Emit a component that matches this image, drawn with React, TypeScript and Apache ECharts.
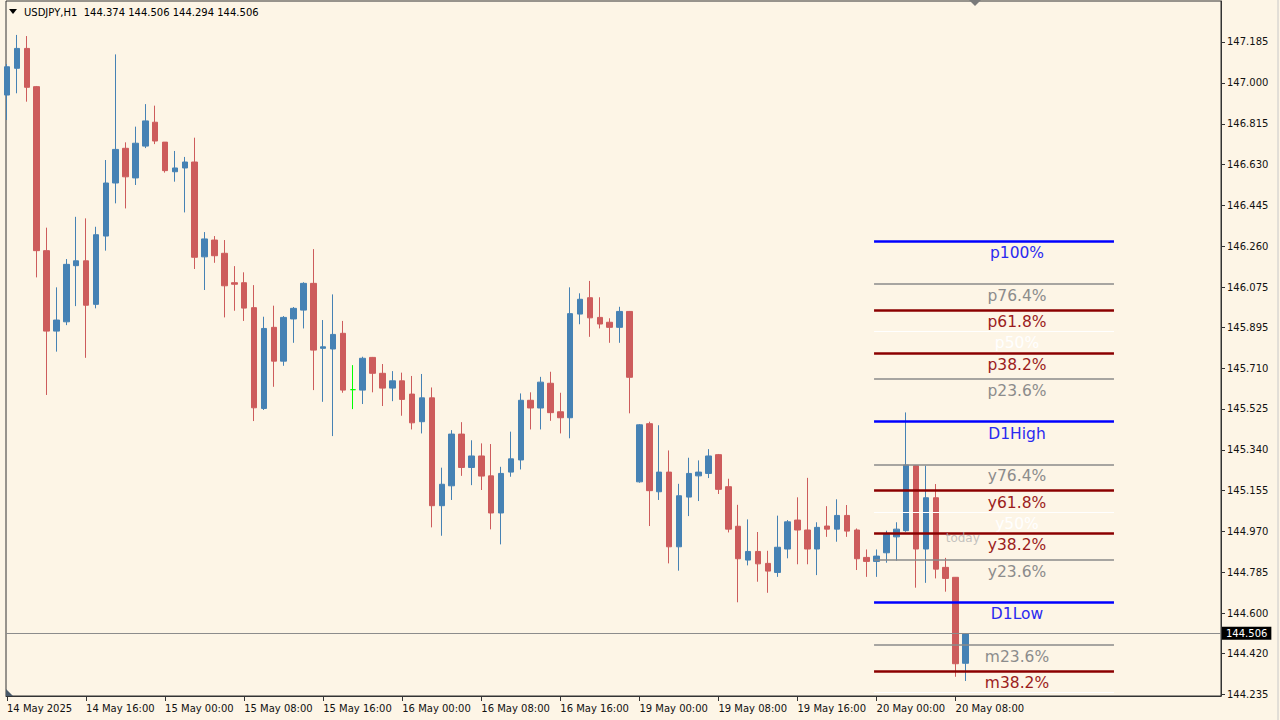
import React, { useEffect, useRef } from "react";
import * as echarts from "echarts";

const symbol = "USDJPY";
const timeframe = "H1";

// 14 May 08:00 ... 20 May 09:00 (H1)
const opens = [
  146.945, 147.066, 147.156, 146.983, 146.241, 145.877, 145.919, 146.173, 146.195, 145.998,
  146.307, 146.547, 146.704, 146.570, 146.714, 146.822, 146.732, 146.598, 146.615, 146.642,
  146.213, 146.289, 146.229, 146.096, 146.096, 145.983, 145.527, 145.894, 145.741, 145.932,
  145.972, 146.093, 145.799, 145.796, 145.867, 145.612, 145.610, 145.758, 145.686, 145.619,
  145.652, 145.592, 145.467, 145.575, 145.087, 145.177, 145.411, 145.260, 145.312, 145.222,
  145.054, 145.239, 145.294, 145.564, 145.529, 145.641, 145.512, 145.485, 145.954, 146.028,
  145.939, 145.917, 145.894, 145.966, 145.195, 145.458, 145.150, 145.239, 144.901, 145.126,
  145.222, 145.233, 145.318, 145.173, 144.994, 144.841, 144.880, 144.826, 144.785, 144.891,
  145.022, 144.977, 144.891, 144.995, 144.981, 145.043, 144.977, 144.853, 144.835, 144.874,
  144.946, 144.974, 145.268, 144.891, 145.123, 144.808, 144.763, 144.374,
];
const highs = [
  147.085, 147.217, 147.212, 146.986, 146.345, 146.075, 146.203, 146.394, 146.387, 146.349,
  146.651, 147.129, 146.731, 146.802, 146.904, 146.897, 146.732, 146.692, 146.665, 146.752,
  146.325, 146.307, 146.289, 146.171, 146.143, 146.085, 145.942, 145.992, 145.945, 145.986,
  146.098, 146.248, 145.927, 146.043, 145.923, 145.723, 145.761, 145.760, 145.728, 145.696,
  145.689, 145.674, 145.683, 145.622, 145.259, 145.429, 145.465, 145.383, 145.369, 145.366,
  145.263, 145.422, 145.595, 145.600, 145.670, 145.693, 145.598, 146.075, 146.048, 146.104,
  146.030, 145.935, 145.987, 145.968, 145.456, 145.467, 145.451, 145.337, 145.186, 145.304,
  145.292, 145.343, 145.321, 145.209, 145.091, 145.025, 144.968, 144.883, 145.042, 145.022,
  145.125, 145.213, 145.012, 145.085, 145.116, 145.090, 144.984, 144.889, 144.889, 144.974,
  145.012, 145.509, 145.271, 145.268, 145.185, 144.851, 144.764, 144.506,
];
const lows = [
  146.832, 146.953, 146.915, 146.120, 145.588, 145.784, 145.904, 145.990, 145.756, 145.980,
  146.241, 146.455, 146.432, 146.538, 146.705, 146.723, 146.594, 146.553, 146.414, 146.158,
  146.063, 146.186, 145.939, 145.969, 145.923, 145.470, 145.520, 145.625, 145.720, 145.824,
  145.889, 145.610, 145.557, 145.402, 145.598, 145.524, 145.547, 145.600, 145.538, 145.560,
  145.494, 145.432, 145.414, 144.989, 144.951, 145.113, 145.222, 145.180, 145.158, 144.980,
  144.912, 145.218, 145.251, 145.432, 145.432, 145.471, 145.414, 145.392, 145.908, 145.851,
  145.889, 145.824, 145.824, 145.505, 145.191, 144.995, 145.113, 144.826, 144.793, 145.040,
  145.108, 145.212, 145.140, 144.966, 144.650, 144.817, 144.743, 144.693, 144.765, 144.849,
  144.822, 144.822, 144.773, 144.946, 144.924, 144.946, 144.796, 144.765, 144.765, 144.829,
  144.838, 144.969, 144.716, 144.738, 144.758, 144.698, 144.313, 144.294,
];
const closes = [
  147.073, 147.156, 146.980, 146.241, 145.877, 145.927, 146.179, 146.195, 145.994, 146.313,
  146.547, 146.699, 146.575, 146.727, 146.828, 146.737, 146.603, 146.615, 146.642, 146.211,
  146.294, 146.218, 146.082, 146.089, 145.981, 145.530, 145.889, 145.741, 145.939, 145.980,
  146.093, 145.791, 145.806, 145.862, 145.610, 145.612, 145.754, 145.686, 145.619, 145.652,
  145.568, 145.462, 145.575, 145.087, 145.184, 145.411, 145.260, 145.312, 145.221, 145.054,
  145.233, 145.299, 145.564, 145.529, 145.646, 145.508, 145.485, 145.956, 146.021, 145.937,
  145.909, 145.894, 145.966, 145.668, 145.453, 145.155, 145.239, 144.901, 145.132, 145.233,
  145.239, 145.312, 145.161, 144.981, 144.847, 144.880, 144.824, 144.791, 144.899, 145.014,
  144.977, 144.891, 144.989, 144.981, 145.043, 144.972, 144.847, 144.835, 144.859, 144.957,
  144.981, 145.271, 144.891, 145.123, 144.800, 144.758, 144.372, 144.506,
];

const xTickIndex = [0, 8, 16, 24, 32, 40, 48, 56, 64, 72, 80, 88, 96];
const xTickLabels = [
  "14 May 2025", "14 May 16:00", "15 May 00:00", "15 May 08:00", "15 May 16:00",
  "16 May 00:00", "16 May 08:00", "16 May 16:00", "19 May 00:00", "19 May 08:00",
  "19 May 16:00", "20 May 00:00", "20 May 08:00",
];
const yTickLabels = [
  144.235, 144.42, 144.6, 144.785, 144.97, 145.155, 145.34, 145.525, 145.71,
  145.895, 146.075, 146.26, 146.445, 146.63, 146.815, 147.0, 147.185,
];

const levelNames = [
  "p100%", "p76.4%", "p61.8%", "p50%", "p38.2%", "p23.6%", "D1High",
  "y76.4%", "y61.8%", "y50%", "y38.2%", "y23.6%", "D1Low", "m23.6%", "m38.2%", "m50%",
];
const levelPrices = [
  146.284, 146.091, 145.972, 145.876, 145.779, 145.66, 145.467,
  145.274, 145.155, 145.059, 144.962, 144.843, 144.65, 144.457, 144.338, 144.242,
];
const levelKinds = [
  "blue", "gray", "red", "white", "red", "gray", "blue",
  "gray", "red", "white", "red", "gray", "blue", "gray", "red", "white",
];
const levelStart = 87.75; // start of today (20 May 00:00 bar)
const levelEnd = 112.03;

const todayLabel = "today";
const todayPos = [95, 144.94];

const lastPrice = closes[closes.length - 1];

const BG = "#FDF5E6";
const BULL = "#4682B4";
const BEAR = "#CD5C5C";
const DOJI = "#00FF00";
const FONT = "DejaVu Sans, Verdana, sans-serif";

const kindStyle: Record<string, { line: string; width: number; text: string }> = {
  blue: { line: "#0000FF", width: 2.5, text: "#2a2af0" },
  gray: { line: "#8a8a8a", width: 1.5, text: "#8c8c8c" },
  red: { line: "#8B0000", width: 2.5, text: "#9b1c1c" },
  white: { line: "#FFFFFF", width: 1, text: "#FFFFFF" },
};

export default function App() {
  const ref = useRef<HTMLDivElement>(null);

  useEffect(() => {
    if (!ref.current) return;
    const chart = echarts.init(ref.current, undefined, { renderer: "svg" });

    const candleData = opens.map((o, i) => {
      const item: any = { value: [i, o, closes[i], lows[i], highs[i]] };
      if (o === closes[i]) {
        item.itemStyle = {
          color: DOJI,
          color0: DOJI,
          borderColor: DOJI,
          borderColor0: DOJI,
          borderColorDoji: DOJI,
        };
      }
      return item;
    });

    const levelLines: any[] = levelPrices.map((p, k) => {
      const st = kindStyle[levelKinds[k]];
      const hideLabel = levelNames[k] === "m50%";
      return [
        {
          coord: [levelStart, p],
          lineStyle: { color: st.line, width: st.width, type: "solid" },
          label: {
            show: !hideLabel,
            formatter: levelNames[k],
            position: "insideMiddleBottom",
            distance: 4,
            padding: [0, 0, 0, 46],
            color: st.text,
            fontSize: 15.5,
            fontFamily: FONT,
          },
        },
        { coord: [levelEnd, p] },
      ];
    });

    const headerText = `${symbol},${timeframe}  ${opens[opens.length - 1].toFixed(3)} ${highs[highs.length - 1].toFixed(3)} ${lows[lows.length - 1].toFixed(3)} ${lastPrice.toFixed(3)}`;

    const option: any = {
      animation: false,
      backgroundColor: BG,
      grid: {
        left: 6,
        right: 59,
        top: 1,
        bottom: 24,
        show: true,
        backgroundColor: BG,
        borderColor: "#333333",
        borderWidth: 1,
      },
      xAxis: {
        type: "value",
        min: -0.1012,
        max: 122.862,
        axisLine: { show: true, onZero: false, lineStyle: { color: "#333333", width: 1 } },
        axisTick: {
          show: true,
          customValues: xTickIndex,
          length: 5,
          lineStyle: { color: "#333333" },
        },
        axisLabel: {
          show: true,
          customValues: xTickIndex,
          formatter: (v: number) => {
            const k = xTickIndex.indexOf(Math.round(v));
            return k >= 0 ? xTickLabels[k] : "";
          },
          align: "left",
          margin: 7,
          color: "#111111",
          fontSize: 10,
          fontFamily: FONT,
        },
        splitLine: { show: false },
      },
      yAxis: {
        type: "value",
        position: "right",
        min: 144.226,
        max: 147.3705,
        axisLine: { show: true, onZero: false, lineStyle: { color: "#333333", width: 1 } },
        axisTick: {
          show: true,
          customValues: yTickLabels,
          length: 4,
          lineStyle: { color: "#333333" },
        },
        axisLabel: {
          show: true,
          customValues: yTickLabels,
          formatter: (v: number) => v.toFixed(3),
          margin: 6,
          color: "#111111",
          fontSize: 10,
          fontFamily: FONT,
        },
        splitLine: { show: false },
      },
      series: [
        {
          type: "candlestick",
          data: candleData,
          encode: { x: 0, y: [1, 2, 3, 4] },
          barWidth: 6,
          clip: true,
          itemStyle: {
            color: BULL,
            color0: BEAR,
            borderColor: BULL,
            borderColor0: BEAR,
            borderWidth: 1,
          },
          markLine: {
            silent: true,
            symbol: ["none", "none"],
            animation: false,
            data: [
              {
                yAxis: lastPrice,
                lineStyle: { color: "#8c8c8c", width: 1, type: "solid" },
                label: {
                  show: true,
                  position: "end",
                  distance: 1,
                  formatter: lastPrice.toFixed(3),
                  backgroundColor: "#000000",
                  color: "#ffffff",
                  padding: [2, 4, 1, 4],
                  fontSize: 10,
                  fontFamily: FONT,
                },
              },
              ...levelLines,
            ],
          },
        },
        {
          type: "scatter",
          data: [todayPos],
          symbolSize: 0,
          itemStyle: { color: "rgba(0,0,0,0)" },
          silent: true,
          z: 5,
          label: {
            show: true,
            formatter: todayLabel,
            position: "right",
            distance: 0,
            color: "#b4b4b4",
            fontSize: 12,
            fontFamily: FONT,
          },
        },
      ],
      graphic: [
        {
          type: "polygon",
          shape: { points: [[9, 9], [17, 9], [13, 14]] },
          style: { fill: "#000000" },
          z: 100,
        },
        {
          type: "text",
          x: 24,
          y: 12,
          style: {
            text: headerText,
            fill: "#000000",
            font: `10px ${FONT}`,
            verticalAlign: "middle",
          },
          z: 100,
        },
        {
          type: "polygon",
          shape: { points: [[969, 0], [981, 0], [975, 6]] },
          style: { fill: "#7a7a7a" },
          z: 100,
        },
        {
          type: "polygon",
          shape: { points: [[6, 689], [6, 696], [13, 696]] },
          style: { fill: "#4a5a6a" },
          z: 100,
        },
        {
          type: "line",
          shape: { x1: 1278, y1: 0, x2: 1278, y2: 720 },
          style: { stroke: "#c8c8c8", lineWidth: 1 },
          z: 100,
        },
      ],
    };

    chart.setOption(option);
    return () => chart.dispose();
  }, []);

  return (
    <div
      ref={ref}
      style={{
        position: "fixed",
        left: 0,
        top: 0,
        width: 1280,
        height: 720,
        background: BG,
      }}
    />
  );
}
